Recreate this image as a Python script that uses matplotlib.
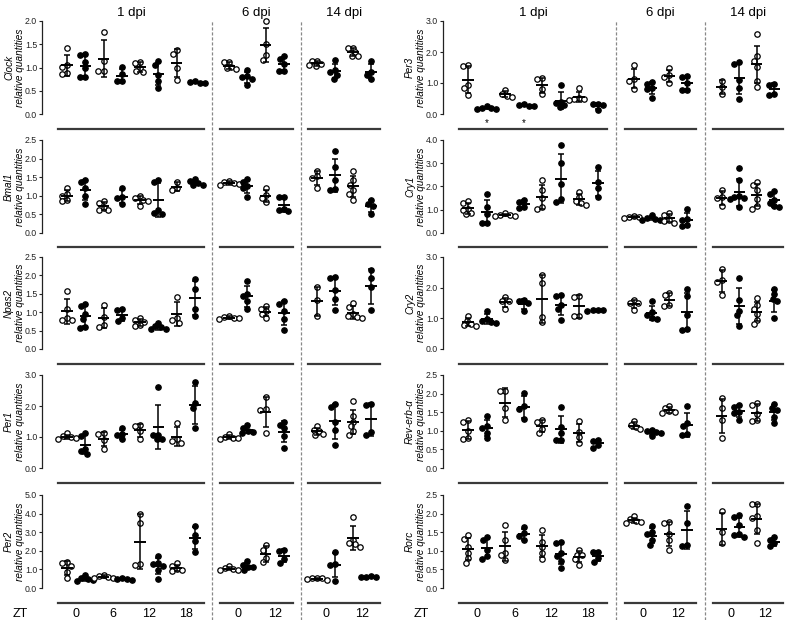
import numpy as np
import matplotlib
matplotlib.use('Agg')
import matplotlib.pyplot as plt
from matplotlib.transforms import blended_transform_factory

plt.rcParams['font.family'] = ['Liberation Sans', 'DejaVu Sans']

# ---------------- data (relative quantities per group) ----------------
# 1 dpi groups: ZT0 sham, ZT0 inj, ZT6 sham, ZT6 inj, ZT12 sham, ZT12 inj, ZT18 sham, ZT18 inj
# 6/14 dpi groups: ZT0 sham, ZT0 inj, ZT12 sham, ZT12 inj
clock_1dpi = [[1.43,1.05,1.02,0.88,0.86],[1.28,1.27,1.12,0.98,0.79,0.79],[1.76,1.15,0.93,0.92],[1.02,0.85,0.72,0.71],
              [1.12,1.10,1.00,0.92,0.91],[1.13,1.05,0.84,0.72,0.56],[1.37,1.30,1.00,0.73],[0.70,0.68,0.67,0.66]]
clock_6dpi = [[1.12,1.11,1.02,0.98,0.97],[0.94,0.81,0.80,0.75,0.62],[2.00,1.50,1.27,1.17],[1.25,1.18,1.08,0.93,0.93]]
clock_14dpi = [[1.15,1.14,1.08,1.05,1.03],[1.16,0.94,0.91,0.84,0.76],[1.43,1.42,1.33,1.25,1.24],[1.14,0.90,0.84,0.76]]

bmal1_1dpi = [[1.22,1.05,1.00,0.90,0.86],[1.42,1.37,1.20,1.00,0.79],[0.86,0.80,0.68,0.62,0.62],[1.20,0.98,0.94,0.79],
              [1.00,0.94,0.88,0.85,0.73],[1.42,1.36,0.62,0.54,0.52],[1.38,1.20,1.15],[1.46,1.40,1.35,1.30,1.29]]
bmal1_6dpi = [[1.41,1.38,1.34,1.32,1.28],[1.45,1.38,1.25,1.20,0.98],[1.20,1.02,0.93,0.82],[0.98,0.96,0.65,0.61,0.58]]
bmal1_14dpi = [[1.68,1.52,1.48,1.22],[2.21,1.78,1.42,1.17,1.15],[1.68,1.42,1.30,1.15,1.05,0.90],[0.90,0.78,0.72,0.50]]

npas2_1dpi = [[1.58,1.10,0.85,0.80,0.78],[1.23,1.16,0.95,0.82,0.60,0.58],[1.20,0.88,0.65,0.60],[1.08,1.05,0.85,0.75],
              [0.84,0.79,0.74,0.65,0.62],[0.72,0.62,0.60,0.55,0.53],[1.42,0.85,0.80,0.72],[1.90,1.62,1.10,0.90]]
npas2_6dpi = [[0.90,0.87,0.85,0.83,0.82],[1.86,1.50,1.45,1.30,1.08],[1.16,1.10,1.02,0.96,0.85],[1.30,1.23,1.02,0.82,0.52]]
npas2_14dpi = [[1.68,1.32,0.90],[1.97,1.92,1.60,1.35,1.07],[1.24,1.15,0.95,0.90,0.87,0.84],[2.15,1.92,1.68,1.05]]

per1_1dpi = [[1.12,1.02,1.00,0.98,0.95],[1.13,1.02,0.62,0.55,0.46],[1.12,1.10,0.90,0.62],[1.28,1.10,1.07,0.92],
             [1.40,1.36,1.18,0.92],[2.60,1.08,1.05,0.95,0.92],[1.45,0.92,0.86,0.82],[2.78,2.10,1.95,1.30]]
per1_6dpi = [[1.10,1.00,0.98,0.97,0.92],[1.38,1.28,1.20,1.15,1.12],[2.28,1.90,1.88,1.13],[1.50,1.40,1.30,1.02,0.65]]
per1_14dpi = [[1.35,1.22,1.18,1.10,1.05],[2.08,1.98,1.50,1.22,0.74],[2.15,1.68,1.50,1.35,1.18,1.08],[2.05,2.02,1.15,1.07]]

per2_1dpi = [[1.40,1.33,1.20,0.88,0.55],[0.72,0.55,0.48,0.42,0.38],[0.72,0.66,0.60,0.56,0.52],[0.52,0.48,0.46,0.45],
             [4.00,3.50,1.27,1.22],[1.73,1.35,1.28,1.20,0.98,0.46],[1.32,1.20,1.00,0.95,0.90],[3.34,2.85,2.55,1.95]]
per2_6dpi = [[1.18,1.05,1.00,0.98,0.96],[1.43,1.25,1.15,1.12,0.96],[2.30,2.05,1.62,1.38],[2.05,2.00,1.55,1.35]]
per2_14dpi = [[0.55,0.55,0.52,0.50,0.42],[1.95,1.30,1.25,0.38],[3.82,2.60,2.40,2.35,2.20],[0.62,0.60,0.60,0.58]]

per3_1dpi = [[1.58,1.55,0.93,0.83,0.62],[0.27,0.20,0.18,0.17,0.17],[0.78,0.65,0.57,0.55],[0.33,0.30,0.27,0.25],
             [1.15,1.12,0.82,0.65],[0.93,0.40,0.35,0.28,0.21],[0.84,0.53,0.50,0.48,0.45],[0.33,0.31,0.30,0.13]]
per3_6dpi = [[1.58,1.12,1.05,0.82],[1.02,0.98,0.84,0.80,0.52],[1.47,1.25,1.20,0.99],[1.22,1.18,1.00,0.78,0.76]]
per3_14dpi = [[1.08,0.88,0.64],[1.68,1.62,1.10,0.85,0.50],[2.57,1.86,1.72,1.52,1.05,0.88],[0.97,0.95,0.63,0.62]]

cry1_1dpi = [[1.36,1.30,1.03,1.00,0.85,0.80],[1.68,1.10,0.80,0.45,0.42],[0.85,0.78,0.76,0.73,0.72],[1.42,1.35,1.10,1.07],
             [2.28,1.85,1.50,1.10,1.02],[3.78,3.00,2.10,1.45,1.35],[1.78,1.55,1.38,1.30,1.22],[2.85,2.20,1.95,1.55]]
cry1_6dpi = [[0.72,0.70,0.68,0.64],[0.78,0.66,0.62,0.58,0.57],[0.84,0.78,0.55,0.52,0.44],[1.05,0.60,0.55,0.33,0.32]]
cry1_14dpi = [[1.85,1.55,1.50,1.14],[2.78,2.30,1.60,1.55,1.50,1.45,1.10],[2.20,2.05,1.85,1.45,1.17,1.05],[1.82,1.68,1.42,1.30,1.15,1.13]]

cry2_1dpi = [[1.08,0.92,0.82,0.77,0.76],[1.25,0.98,0.92,0.88,0.86],[1.68,1.55,1.55,1.30],[1.60,1.55,1.50,1.23],
             [2.42,2.15,1.05,0.88],[1.77,1.72,1.45,1.30,0.95],[1.72,1.68,1.08,1.07],[1.28,1.27,1.26,1.25]]
cry2_6dpi = [[1.60,1.50,1.50,1.28],[1.55,1.22,1.12,1.02,0.97],[1.83,1.77,1.45,1.40],[1.95,1.72,1.10,0.65,0.62]]
cry2_14dpi = [[2.62,2.25,2.20,1.75],[2.30,1.60,1.25,1.10,0.74],[1.65,1.45,1.30,1.15,0.95,0.80],[1.95,1.78,1.62,1.55,1.00]]

reverba_1dpi = [[1.30,1.25,1.00,0.80,0.78],[1.40,1.12,1.08,0.95,0.81],[2.08,2.06,1.60,1.30],[2.02,1.66,1.58,1.32],
                [1.30,1.25,1.05,0.95],[1.63,1.10,0.95,0.76,0.74],[1.26,0.98,0.82,0.68],[0.76,0.72,0.62,0.55]]
reverba_6dpi = [[1.26,1.15,1.10,1.05],[1.02,0.99,0.96,0.94,0.86],[1.68,1.60,1.52,1.50,1.48],[1.67,1.20,1.12,0.92,0.88]]
reverba_14dpi = [[1.88,1.62,1.30,0.80],[1.70,1.65,1.50,1.48,1.30],[1.74,1.70,1.45,1.30,1.26],[1.73,1.60,1.55,1.38,1.22]]

rorc_1dpi = [[1.42,1.33,1.10,0.95,0.80,0.68],[1.38,1.28,1.02,0.85,0.78],[1.70,1.30,0.95,0.88,0.75],[1.63,1.48,1.40,1.28],
             [1.55,1.25,1.10,0.95,0.78],[1.25,1.22,0.95,0.85,0.72,0.55],[1.03,0.90,0.88,0.78,0.63],[0.98,0.96,0.80,0.70]]
rorc_6dpi = [[1.93,1.85,1.80,1.78,1.76],[1.67,1.50,1.45,1.28,1.15],[1.78,1.74,1.45,1.30,1.02],[2.20,1.75,1.15,1.13]]
rorc_14dpi = [[2.06,1.50,1.20],[1.95,1.90,1.70,1.45,1.42,1.38],[2.27,2.25,1.93,1.88,1.56,1.22],[1.36,1.30,1.20,1.12]]

genes_left = ['Clock', 'Bmal1', 'Npas2', 'Per1', 'Per2']
genes_right = ['Per3', 'Cry1', 'Cry2', 'Rev-erb-α', 'Rorc']
gene_data = {
    'Clock': [clock_1dpi, clock_6dpi, clock_14dpi],
    'Bmal1': [bmal1_1dpi, bmal1_6dpi, bmal1_14dpi],
    'Npas2': [npas2_1dpi, npas2_6dpi, npas2_14dpi],
    'Per1': [per1_1dpi, per1_6dpi, per1_14dpi],
    'Per2': [per2_1dpi, per2_6dpi, per2_14dpi],
    'Per3': [per3_1dpi, per3_6dpi, per3_14dpi],
    'Cry1': [cry1_1dpi, cry1_6dpi, cry1_14dpi],
    'Cry2': [cry2_1dpi, cry2_6dpi, cry2_14dpi],
    'Rev-erb-α': [reverba_1dpi, reverba_6dpi, reverba_14dpi],
    'Rorc': [rorc_1dpi, rorc_6dpi, rorc_14dpi],
}
y_max = {'Clock': 2.0, 'Bmal1': 2.5, 'Npas2': 2.5, 'Per1': 3.0, 'Per2': 5.0,
         'Per3': 3.0, 'Cry1': 4.0, 'Cry2': 3.0, 'Rev-erb-α': 2.5, 'Rorc': 2.5}
y_step = {'Clock': 0.5, 'Bmal1': 0.5, 'Npas2': 0.5, 'Per1': 1.0, 'Per2': 1.0,
          'Per3': 1.0, 'Cry1': 1.0, 'Cry2': 1.0, 'Rev-erb-α': 0.5, 'Rorc': 0.5}
dpi_titles = ['1 dpi', '6 dpi', '14 dpi']
zt_labels = [['0', '6', '12', '18'], ['0', '12'], ['0', '12']]
star_groups = {'Per3': [1, 3]}

# ---------------- layout (pixels) ----------------
W, H, DPI = 786, 620, 100
fig = plt.figure(figsize=(W / DPI, H / DPI), dpi=DPI)
fig.patch.set_facecolor('white')

col_spine = [42, 443]
col_groups = [[(58, 204), (220, 293), (308, 380)],
              [(459, 607), (625, 696), (713, 783)]]
row_top = [21, 140, 257, 375, 495]
row_bot = [114, 233, 349, 468, 588]
PT = 72.0 / DPI
MS = 3.9
DIAM = 5.2  # marker spacing in px for the swarm


def swarm(vals, px_per_y, px_per_x):
    vals = np.asarray(vals, float)
    ypx = vals * px_per_y
    order = np.argsort(-vals)
    placed = []
    offs = np.zeros(len(vals))
    for i in order:
        cands = [0.0]
        for (xj, yj) in placed:
            dy = abs(ypx[i] - yj)
            if dy < DIAM:
                dx = np.sqrt(DIAM ** 2 - dy ** 2)
                cands += [xj + dx, xj - dx]
        cands = sorted(cands, key=lambda c: (abs(c), c))
        for c in cands:
            ok = True
            for (xj, yj) in placed:
                if (c - xj) ** 2 + (ypx[i] - yj) ** 2 < DIAM ** 2 - 1e-6:
                    ok = False
                    break
            if ok:
                offs[i] = c
                placed.append((c, ypx[i]))
                break
    return offs / px_per_x


for col, genes in enumerate([genes_left, genes_right]):
    for r, gene in enumerate(genes):
        top, bot = row_top[r], row_bot[r]
        ymax = y_max[gene]
        for g, (x0, x1) in enumerate(col_groups[col]):
            groups = gene_data[gene][g]
            n = len(groups)
            ax = fig.add_axes([x0 / W, 1 - bot / H, (x1 - x0) / W, (bot - top) / H])
            ax.set_xlim(-0.5, n - 0.5)
            ax.set_ylim(0, ymax)
            ax.patch.set_alpha(0)
            for s in ['top', 'right']:
                ax.spines[s].set_visible(False)
            ax.spines['bottom'].set_position(('outward', 14.5 * PT))
            ax.spines['bottom'].set_linewidth(1.6)
            ax.spines['bottom'].set_color('#3a3a3a')
            ax.set_xticks([])
            if g == 0:
                ax.spines['left'].set_position(('outward', (x0 - col_spine[col]) * PT))
                ax.spines['left'].set_linewidth(0.9)
                ax.spines['left'].set_color('#222222')
                ticks = np.arange(0, ymax + 1e-9, y_step[gene])
                ax.set_yticks(ticks)
                ax.set_yticklabels(['%.1f' % t for t in ticks], fontsize=6.3, color='#222222')
                ax.tick_params(axis='y', length=2.5, width=0.8, pad=1.0, color='#222222')
            else:
                ax.spines['left'].set_visible(False)
                ax.set_yticks([])
            px_per_y = (bot - top) / ymax
            px_per_x = (x1 - x0) / n
            for i, vals in enumerate(groups):
                vals = np.asarray(vals, float)
                offs = swarm(vals, px_per_y, px_per_x)
                filled = (i % 2 == 1)
                ax.plot(i + offs, vals, 'o', ms=MS, mfc='black' if filled else 'white',
                        mec='black', mew=0.9, clip_on=False, zorder=3, ls='none')
                m = vals.mean()
                sd = vals.std(ddof=1)
                ax.errorbar([i], [m], yerr=[sd], fmt='none', ecolor='black', elinewidth=1.1,
                            capsize=2.3, capthick=1.1, zorder=4, clip_on=False)
                ax.hlines(m, i - 0.32, i + 0.32, color='black', lw=1.4, zorder=4, clip_on=False)
            if g == 0 and gene in star_groups:
                for si in star_groups[gene]:
                    ax.text(si, -0.28 * y_step[gene], '*', ha='center', va='center',
                            fontsize=7, clip_on=False)
            if r == 0:
                fig.text((x0 + x1) / 2 / W, 1 - 13 / H, dpi_titles[g], ha='center', va='center',
                         fontsize=9.5)
            if r == len(genes) - 1:
                tr = blended_transform_factory(ax.transData, fig.transFigure)
                for k, lab in enumerate(zt_labels[g]):
                    ax.text(2 * k + 0.5, 1 - 614 / H, lab, transform=tr, ha='center', va='center',
                            fontsize=9)
        # y labels
        yc = 1 - (top + bot) / 2 / H
        xs = col_spine[col] - 33
        fig.text((xs) / W, yc, gene, rotation=90, ha='center', va='center', fontsize=7.2,
                 style='italic')
        fig.text((xs + 11) / W, yc, 'relative quantities', rotation=90, ha='center',
                 va='center', fontsize=7.2, style='italic')
    # ZT label
    fig.text((col_spine[col] - 22) / W, 1 - 614 / H, 'ZT', ha='center', va='center', fontsize=9)
    # dashed separators
    for a, b in [(0, 1), (1, 2)]:
        xm = (col_groups[col][a][1] + col_groups[col][b][0]) / 2 / W
        fig.add_artist(plt.Line2D([xm, xm], [0, 1 - 20 / H], transform=fig.transFigure,
                                  color='#888888', lw=0.9, ls=(0, (2.5, 1.5))))

fig.savefig('out.png', dpi=DPI, facecolor='white')
